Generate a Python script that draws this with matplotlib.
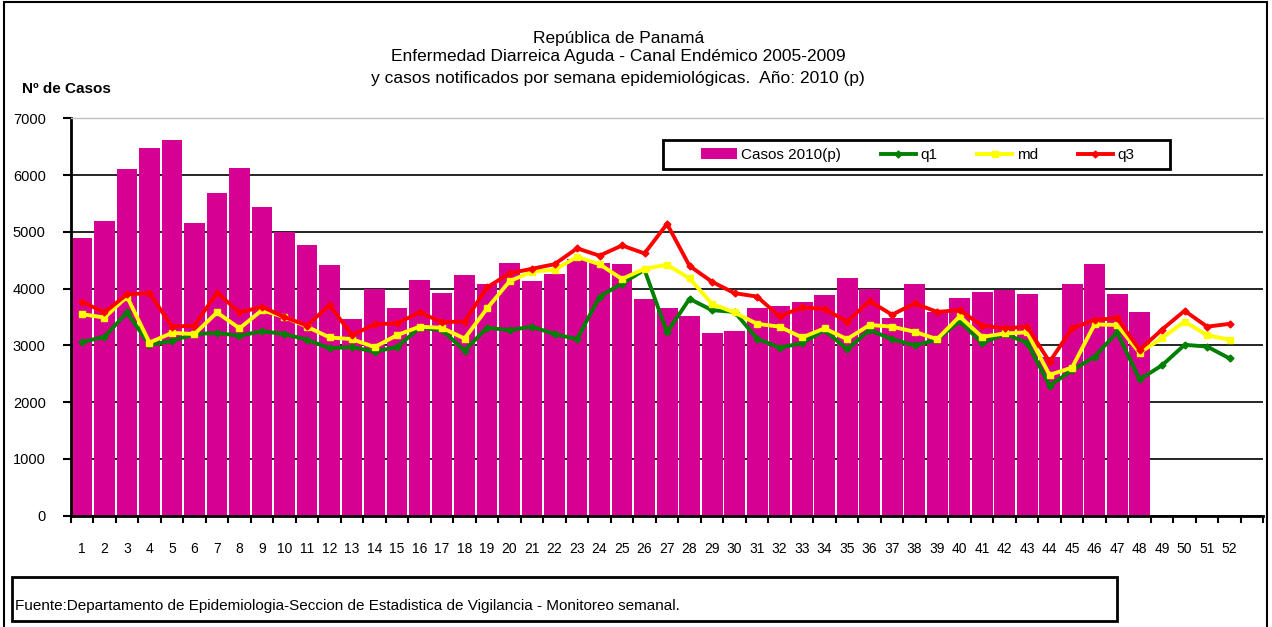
import numpy as np
import matplotlib
matplotlib.use("Agg")
from matplotlib import pyplot as plt
from matplotlib.patches import Rectangle

plt.rcParams['font.family'] = ['Liberation Sans', 'DejaVu Sans']

# semanas epidemiologicas (el eje tiene 53 posiciones, la 53 sin etiqueta)
semanas = list(range(1, 54))
etiquetas = [str(s) for s in range(1, 53)] + ['']

casos_2010 = [4890, 5200, 6100, 6470, 6620, 5160, 5680, 6120, 5430, 5000,
              4760, 4410, 3460, 3990, 3650, 4150, 3930, 4240, 4090, 4450,
              4130, 4260, 4530, 4450, 4430, 3820, 3650, 3510, 3210, 3250,
              3650, 3690, 3760, 3880, 4190, 4000, 3480, 4090, 3580, 3840,
              3940, 3970, 3900, 2800, 4090, 4430, 3900, 3590]

q1 = [3060, 3150, 3580, 3010, 3080, 3200, 3220, 3170, 3250, 3200,
      3100, 2950, 2970, 2890, 2970, 3310, 3270, 2910, 3310, 3270,
      3330, 3200, 3110, 3860, 4090, 4330, 3230, 3820, 3620, 3590,
      3120, 2960, 3040, 3270, 2930, 3270, 3110, 3000, 3100, 3430,
      3040, 3200, 3050, 2290, 2560, 2800, 3230, 2400, 2650, 3010,
      2980, 2770]

md = [3550, 3490, 3860, 3050, 3220, 3200, 3580, 3300, 3620, 3500,
      3330, 3140, 3110, 2970, 3180, 3330, 3310, 3120, 3650, 4130,
      4300, 4330, 4560, 4430, 4170, 4350, 4420, 4180, 3730, 3580,
      3380, 3330, 3140, 3300, 3110, 3360, 3330, 3240, 3110, 3510,
      3150, 3210, 3230, 2480, 2610, 3370, 3360, 2870, 3130, 3420,
      3180, 3100]

q3 = [3770, 3580, 3900, 3920, 3330, 3350, 3930, 3580, 3680, 3500,
      3350, 3710, 3180, 3370, 3390, 3580, 3410, 3420, 4020, 4270,
      4350, 4430, 4710, 4580, 4760, 4620, 5140, 4400, 4120, 3920,
      3860, 3510, 3670, 3640, 3420, 3780, 3540, 3740, 3590, 3620,
      3350, 3300, 3330, 2710, 3300, 3450, 3480, 2920, 3280, 3610,
      3330, 3380]

fig = plt.figure(figsize=(12.72, 6.27), dpi=100)
ax = fig.add_axes([0.0556, 0.1775, 0.9376, 0.6338])

ax.set_axisbelow(True)
ax.yaxis.grid(True, color='black', linewidth=1.2)

x_bar = semanas[:len(casos_2010)]
barras = ax.bar(x_bar, casos_2010, width=0.93, color='#D60093', label='Casos 2010(p)', zorder=2)

x_lin = semanas[:len(q1)]
l1, = ax.plot(x_lin, q1, color='#008000', lw=2.8, marker='D', ms=3.5, label='q1', zorder=3)
l2, = ax.plot(x_lin, md, color='#FFFF00', lw=2.8, marker='s', ms=5, label='md', zorder=4)
l3, = ax.plot(x_lin, q3, color='#FF0000', lw=2.8, marker='D', ms=3.5, label='q3', zorder=5)

ax.set_xlim(0.5, 53.5)
ax.set_ylim(0, 7000)
ax.set_yticks(range(0, 7001, 1000))
ax.tick_params(axis='y', length=6, width=1.5, pad=12, labelsize=10.5)
ax.set_xticks(semanas)
ax.set_xticklabels(etiquetas)
ax.tick_params(axis='x', which='major', length=0, pad=19, labelsize=10)
ax.set_xticks(np.arange(0.5, 54, 1), minor=True)
ax.tick_params(axis='x', which='minor', length=5, width=1.5)

ax.spines['left'].set_linewidth(2)
ax.spines['bottom'].set_linewidth(2)
ax.spines['right'].set_visible(False)
ax.spines['top'].set_color('#C0C0C0')
ax.spines['top'].set_linewidth(1)

# leyenda sin marco + recuadro aparte
fig.legend([barras, l1, l2, l3], ['Casos 2010(p)', 'q1', 'md', 'q3'],
           loc='center', ncol=4, bbox_to_anchor=(918 / 1272, 1 - 155 / 627),
           frameon=False, fontsize=11, handlelength=2.3, handletextpad=0.3,
           columnspacing=2.6, borderaxespad=0)
fig.add_artist(Rectangle((663 / 1272, 1 - 169 / 627), 507 / 1272, 29 / 627,
                         transform=fig.transFigure, fill=False, lw=2, edgecolor='black'))

fig.text(0.486, 1 - 38 / 627, 'República de Panamá', ha='center', va='center', fontsize=12.5)
fig.text(0.486, 1 - 57 / 627, 'Enfermedad Diarreica Aguda - Canal Endémico 2005-2009',
         ha='center', va='center', fontsize=12.5)
fig.text(0.486, 1 - 79 / 627, 'y casos notificados por semana epidemiológicas.  Año: 2010 (p)',
         ha='center', va='center', fontsize=12.5)
fig.text(22 / 1272, 1 - 89 / 627, 'Nº de Casos', ha='left', va='center',
         fontsize=11, fontweight='bold')

# marco exterior y cuadro de fuente
fig.add_artist(Rectangle((4 / 1272, -0.02), 1263 / 1272, 1.0 - 1.5 / 627 + 0.02,
                         transform=fig.transFigure, fill=False, lw=1.5, edgecolor='black'))
fig.add_artist(Rectangle((12 / 1272, 1 - 621 / 627), 1105 / 1272, 44 / 627,
                         transform=fig.transFigure, fill=False, lw=2, edgecolor='black'))
fig.text(15 / 1272, 1 - 606 / 627,
         'Fuente:Departamento de Epidemiologia-Seccion de Estadistica de Vigilancia - Monitoreo semanal.',
         ha='left', va='center', fontsize=11)

fig.savefig('out.png', dpi=100)
